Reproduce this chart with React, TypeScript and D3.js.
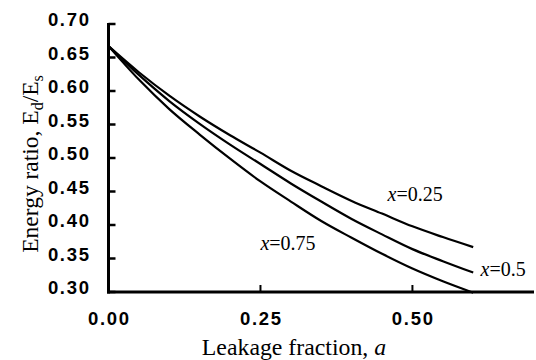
import React from "react";
import * as d3 from "d3";

const leakage = [0, 0.05, 0.1, 0.15, 0.2, 0.25, 0.3, 0.35, 0.4, 0.45, 0.5, 0.55, 0.6];
const ratioX025 = [0.667, 0.628, 0.593, 0.562, 0.534, 0.508, 0.481, 0.458, 0.436, 0.417, 0.398, 0.382, 0.367];
const ratioX050 = [0.667, 0.624, 0.585, 0.551, 0.52, 0.491, 0.462, 0.435, 0.409, 0.386, 0.364, 0.346, 0.329];
const ratioX075 = [0.667, 0.617, 0.573, 0.535, 0.499, 0.465, 0.435, 0.406, 0.381, 0.357, 0.335, 0.316, 0.299];
const seriesLabels = ["=0.25", "=0.5", "=0.75"];
const yTicks = [0.3, 0.35, 0.4, 0.45, 0.5, 0.55, 0.6, 0.65, 0.7];
const xTicks = [0, 0.25, 0.5];

const W = 536;
const H = 360;

export default function App() {
  const x = d3.scaleLinear().domain([0, 0.7]).range([108.5, 534]);
  const y = d3.scaleLinear().domain([0.3, 0.7]).range([292, 24]);
  const line = d3
    .line<[number, number]>()
    .x((d) => x(d[0]))
    .y((d) => y(d[1]))
    .curve(d3.curveMonotoneX);
  const series = [ratioX025, ratioX050, ratioX075];
  const serif = "'Liberation Serif', 'Times New Roman', serif";
  const sans = "'Liberation Sans', Arial, sans-serif";
  const labelPos: [number, number][] = [
    [0.459, 0.4358],
    [0.612, 0.3243],
    [0.25, 0.3627],
  ];
  const ls = 1.7;
  return (
    <svg width={W} height={H} style={{ position: "absolute", left: 0, top: 0, background: "#fff" }}>
      <rect x={0} y={0} width={W} height={H} fill="#fff" />
      {series.map((s, i) => (
        <path
          key={i}
          d={line(leakage.map((a, j) => [a, s[j]] as [number, number])) || ""}
          fill="none"
          stroke="#000"
          strokeWidth={2.2}
        />
      ))}
      <line x1={x(0)} x2={x(0)} y1={y(0.7) - 1} y2={y(0.3) + 1.5} stroke="#000" strokeWidth={3} />
      <line x1={x(0) - 1.5} x2={x(0.7)} y1={y(0.3)} y2={y(0.3)} stroke="#000" strokeWidth={3} />
      {yTicks.map((t) => (
        <g key={"y" + t}>
          <line x1={x(0)} x2={x(0) + 7} y1={y(t)} y2={y(t)} stroke="#000" strokeWidth={2.5} />
          <text
            x={89 + ls}
            y={y(t) + 2}
            textAnchor="end"
            fontFamily={sans}
            fontWeight="bold"
            fontSize={18.5}
            letterSpacing={ls}
            fill="#000"
          >
            {t.toFixed(2)}
          </text>
        </g>
      ))}
      {xTicks.map((t) => (
        <g key={"x" + t}>
          {t > 0 && <line x1={x(t)} x2={x(t)} y1={y(0.3)} y2={y(0.3) - 7} stroke="#000" strokeWidth={2} />}
          <text
            x={x(t) + ls / 2}
            y={325}
            textAnchor="middle"
            fontFamily={sans}
            fontWeight="bold"
            fontSize={18.5}
            letterSpacing={ls}
            fill="#000"
          >
            {t.toFixed(2)}
          </text>
        </g>
      ))}
      {seriesLabels.map((lab, i) => (
        <text
          key={lab}
          x={x(labelPos[i][0])}
          y={y(labelPos[i][1])}
          fontFamily={serif}
          fontSize={20}
          fill="#000"
        >
          <tspan fontStyle="italic">x</tspan>
          {lab}
        </text>
      ))}
      <text x={294} y={355} textAnchor="middle" fontFamily={serif} fontSize={23.8} fill="#000">
        Leakage fraction, <tspan fontStyle="italic">a</tspan>
      </text>
      <text
        transform="translate(38,164) rotate(-90)"
        textAnchor="middle"
        fontFamily={serif}
        fontSize={23.5}
        fill="#000"
      >
        Energy ratio, E
        <tspan fontSize={16} dy={5}>d</tspan>
        <tspan dy={-5}>/E</tspan>
        <tspan fontSize={16} dy={5}>s</tspan>
      </text>
    </svg>
  );
}
